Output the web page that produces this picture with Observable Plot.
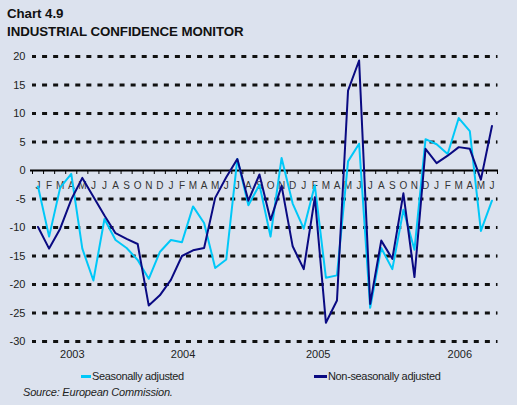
<!DOCTYPE html>
<html><head><meta charset="utf-8">
<script src="https://cdn.jsdelivr.net/npm/d3@7"></script>
<script src="https://cdn.jsdelivr.net/npm/@observablehq/plot@0.6"></script>
<style>
body{margin:0;background:#dce2ee;font-family:"Liberation Sans",Arial,sans-serif;}
#wrap{position:relative;width:517px;height:405px;overflow:hidden;background:#dce2ee;}
.t{position:absolute;left:7px;font-weight:bold;font-size:13.3px;color:#111;letter-spacing:-0.05px;white-space:nowrap;line-height:14px;}
#chart{position:absolute;left:0;top:40px;}
.lg{position:absolute;font-size:11px;color:#222;letter-spacing:-0.35px;white-space:nowrap;line-height:13px;}
.sw{position:absolute;height:3px;}
#src{position:absolute;left:23px;top:386px;font-size:11px;font-style:italic;color:#222;letter-spacing:-0.2px;white-space:nowrap;line-height:13px;}
</style></head><body>
<div id="wrap">
<div class="t" style="top:7px">Chart 4.9</div>
<div class="t" style="top:25px">INDUSTRIAL CONFIDENCE MONITOR</div>
<div id="chart"></div>
<div class="sw" style="left:81px;top:375px;width:10px;background:#00c8f8"></div>
<div class="lg" style="left:92px;top:370px">Seasonally adjusted</div>
<div class="sw" style="left:314px;top:375px;width:13px;background:#0a0a82"></div>
<div class="lg" style="left:328px;top:370px">Non-seasonally adjusted</div>
<div id="src">Source: European Commission.</div>
</div>
<script>
const monthLabels = ["J","F","M","A","M","J","J","A","S","O","N","D",
  "J","F","M","A","M","J","J","A","S","O","N","D",
  "J","F","M","A","M","J","J","A","S","O","N","D",
  "J","F","M","A","M","J"];
const seasonallyAdjusted = [
  -2.8, -11.6, -3.0, -0.6, -13.7, -19.3, -8.5, -12.2, -13.6, -15.7, -19.0, -14.3,
  -12.2, -12.6, -6.3, -9.2, -17.1, -15.6, 2.0, -6.1, -2.5, -11.6, 2.2, -5.8,
  -10.2, -2.6, -18.8, -18.4, 1.6, 4.7, -24.1, -13.6, -17.3, -6.9, -13.9, 5.5,
  4.6, 2.9, 9.2, 6.9, -10.6, -5.3];
const nonSeasonallyAdjusted = [
  -9.9, -13.7, -10.2, -5.1, -1.3, -4.6, -7.9, -11.0, -12.0, -12.9, -23.7, -21.9,
  -19.2, -15.0, -14.0, -13.6, -4.8, -1.2, 2.0, -5.3, -0.7, -8.7, -2.7, -13.3,
  -17.3, -4.7, -26.7, -22.8, 14.0, 19.3, -23.4, -12.3, -15.5, -4.0, -18.7, 3.8,
  1.3, 2.6, 4.1, 3.8, -1.6, 7.8];
const yearLabels = ["2003","2004","2005","2006"];
const yearLabelMonth = [3.6, 13.6, 25.8, 38.6];
const yTicks = [-30,-25,-20,-15,-10,-5,0,5,10,15,20];

const rows = monthLabels.map((m, i) => ({t: i + 0.5, m, sa: seasonallyAdjusted[i], nsa: nonSeasonallyAdjusted[i]}));
const bounds = d3.range(0, monthLabels.length + 1);
const grid = yTicks.filter(v => v !== 0);
const years = yearLabels.map((y, i) => ({y, t: yearLabelMonth[i]}));

const plot = Plot.plot({
  width: 517, height: 325,
  marginLeft: 32, marginRight: 20, marginTop: 16, marginBottom: 24,
  style: {background: "transparent", fontFamily: "Liberation Sans, Arial, sans-serif"},
  x: {domain: [0, monthLabels.length], axis: null},
  y: {domain: [-30, 20], ticks: yTicks, tickSize: 0, tickPadding: 7, tickFormat: d => String(d), label: null},
  marks: [
    Plot.axisY({ticks: yTicks, tickSize: 0, tickPadding: 7, fontSize: 11, fill: "#222", label: null, tickFormat: d => String(d)}),
    Plot.ruleY(grid, {x1: 0, x2: monthLabels.length, stroke: "#111", strokeWidth: 2.8, strokeDasharray: "5,6.07", strokeDashoffset: 1}),
    Plot.ruleY(grid, {x1: monthLabels.length, x2: monthLabels.length, insetLeft: -0.5, insetRight: -0.5, stroke: "#111", strokeWidth: 3}),
    Plot.ruleY([0], {x1: 0, x2: monthLabels.length, stroke: "#000", strokeWidth: 2, insetLeft: -2, insetRight: -1}),
    Plot.ruleX(bounds, {x: d => d, y1: 0, y2: 0, insetBottom: -4, stroke: "#000", strokeWidth: 1}),
    Plot.text(rows, {x: "t", y: 0, text: "m", dy: 15, fontSize: 10, fill: "#333"}),
    Plot.text(years, {x: "t", text: "y", frameAnchor: "bottom", dy: 16, fontSize: 11, fill: "#222"}),
    Plot.line(rows, {x: "t", y: "sa", stroke: "#00c8f8", strokeWidth: 2}),
    Plot.line(rows, {x: "t", y: "nsa", stroke: "#0a0a82", strokeWidth: 2})
  ]
});
document.getElementById("chart").appendChild(plot);
</script>
</body></html>
